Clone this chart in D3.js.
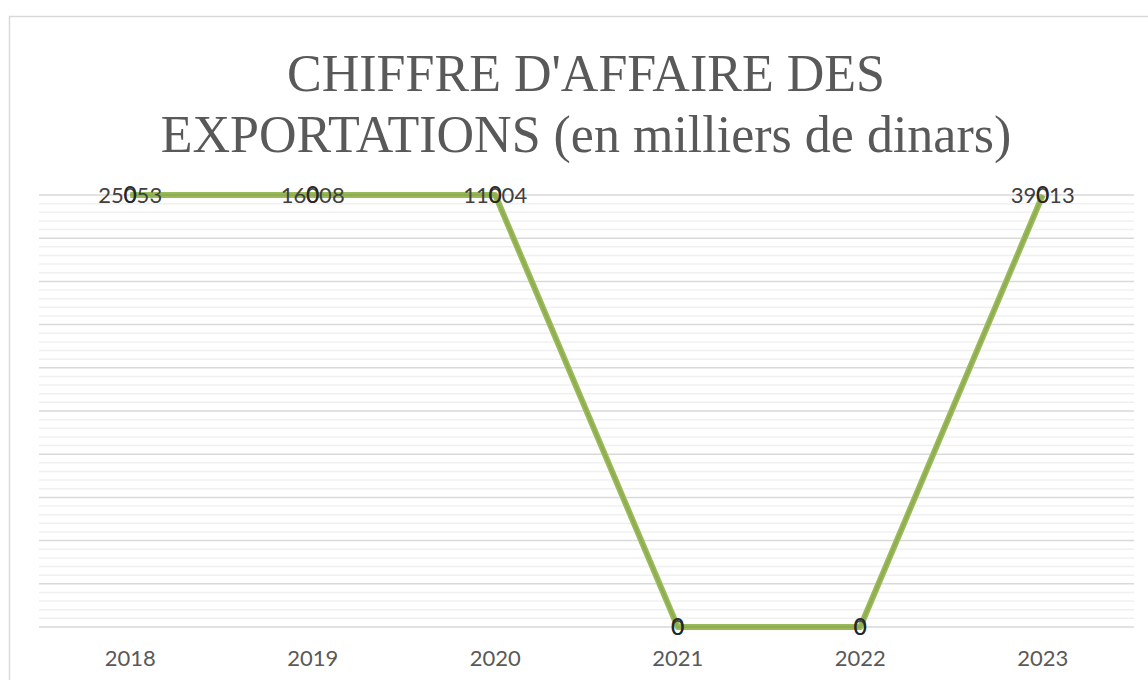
<!DOCTYPE html>
<html>
<head>
<meta charset="utf-8">
<script src="https://cdn.jsdelivr.net/npm/d3@7"></script>
<style>
  body { margin: 0; background: #fff; }
  svg { display: block; }
</style>
</head>
<body>
<script>
var years = ["2018", "2019", "2020", "2021", "2022", "2023"];
var exports = [25053, 16008, 11004, 0, 0, 39013];
var second = [0, 0, 0, 0, 0, 0];
var titleLines = ["CHIFFRE D'AFFAIRE DES", "EXPORTATIONS (en milliers de dinars)"];

var width = 1148;
var height = 680;
var plotLeft = 39, plotRight = 1134, plotTop = 195, plotBottom = 627;
var labelFont = "Lato, 'Liberation Sans', sans-serif";

var svg = d3.select("body").append("svg")
	.attr("width", width)
	.attr("height", height);

// chart frame
svg.append("rect")
	.attr("x", 9.5).attr("y", 16.5)
	.attr("width", 1160).attr("height", 700)
	.attr("fill", "#fff")
	.attr("stroke", "#d9d9d9")
	.attr("stroke-width", 1.5);

// 100% stacked values
var totals = exports.map(function(d, i) { return d + second[i]; });
var pct1 = exports.map(function(d, i) { return totals[i] ? d / totals[i] : 0; });
var pct2 = second.map(function(d, i) { return totals[i] ? (exports[i] + d) / totals[i] : 0; });

var x = d3.scaleBand().domain(years).range([plotLeft, plotRight]);
var y = d3.scaleLinear().domain([0, 1]).range([plotBottom, plotTop]);

// minor gridlines
svg.append("g").selectAll("line")
	.data(d3.range(0, 1.0001, 0.02).filter(function(v) { return Math.round(v * 50) % 5 != 0; }))
	.enter().append("line")
	.attr("x1", plotLeft).attr("x2", plotRight)
	.attr("y1", function(d) { return y(d); })
	.attr("y2", function(d) { return y(d); })
	.attr("stroke", "#f0f0f0")
	.attr("stroke-width", 1.5);

// major gridlines
svg.append("g").selectAll("line")
	.data(y.ticks(10))
	.enter().append("line")
	.attr("x1", plotLeft).attr("x2", plotRight)
	.attr("y1", function(d) { return y(d); })
	.attr("y2", function(d) { return y(d); })
	.attr("stroke", "#d9d9d9")
	.attr("stroke-width", 1.5);

// x axis labels
var xAxis = d3.axisBottom(x).tickSize(0).tickPadding(0);
var gx = svg.append("g")
	.attr("transform", "translate(0," + (plotBottom + 23) + ")")
	.call(xAxis);
gx.select(".domain").remove();
gx.selectAll("text")
	.attr("font-family", labelFont)
	.attr("font-size", "22px")
	.attr("fill", "#595959")
	.attr("dy", "0.71em");

var cx = function(i) { return x(years[i]) + x.bandwidth() / 2; };

var line = d3.line()
	.x(function(d, i) { return cx(i); })
	.y(function(d) { return y(d); });

svg.append("path")
	.datum(pct1)
	.attr("d", line)
	.attr("fill", "none")
	.attr("stroke", "#9bbb59")
	.attr("stroke-width", 6)
	.attr("stroke-linejoin", "round");

svg.append("path")
	.datum(pct2)
	.attr("d", line)
	.attr("fill", "none")
	.attr("stroke", "#8fad52")
	.attr("stroke-width", 2.5)
	.attr("stroke-linejoin", "round");

// data labels
svg.append("g").selectAll("text")
	.data(exports)
	.enter().append("text")
	.text(function(d) { return d; })
	.attr("x", function(d, i) { return cx(i); })
	.attr("y", function(d, i) { return y(pct1[i]); })
	.attr("dy", "0.36em")
	.attr("text-anchor", "middle")
	.attr("font-family", labelFont)
	.attr("font-size", "22px")
	.attr("fill", "#404040");

svg.append("g").selectAll("text")
	.data(second)
	.enter().append("text")
	.text(function(d) { return d; })
	.attr("x", function(d, i) { return cx(i); })
	.attr("y", function(d, i) { return y(pct2[i]); })
	.attr("dy", "0.36em")
	.attr("text-anchor", "middle")
	.attr("font-family", labelFont)
	.attr("font-size", "23px")
	.attr("fill", "#262626");

// title
svg.append("g").selectAll("text")
	.data(titleLines)
	.enter().append("text")
	.text(function(d) { return d; })
	.attr("x", 586)
	.attr("y", function(d, i) { return 91 + i * 61; })
	.attr("text-anchor", "middle")
	.attr("font-family", "'Liberation Serif', 'DejaVu Serif', serif")
	.attr("font-size", "52px")
	.attr("fill", "#595959");
</script>
</body>
</html>
